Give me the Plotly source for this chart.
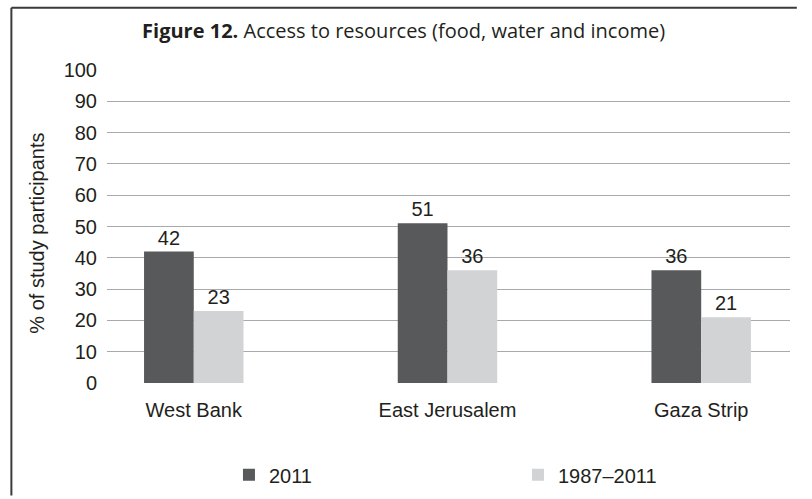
import plotly.graph_objects as go

# Data
regions = ["West Bank", "East Jerusalem", "Gaza Strip"]
series_names = ["2011", "1987\u20132011"]
values_2011 = [42, 51, 36]
values_1987_2011 = [23, 36, 21]
y_ticks = [0, 10, 20, 30, 40, 50, 60, 70, 80, 90, 100]

DARK = "#58595b"
LIGHT = "#d1d3d4"
TEXT = "#231f20"
GRID = "#a7a9ac"
BODY_FONT = "Liberation Sans, Arial, sans-serif"

W, H = 812, 499
L, R, T, B = 107, 5, 70, 112  # plot area margins in px
plot_w = W - L - R
plot_h = H - T - B


def px_to_paper_x(px):
    return (px - L) / plot_w


def px_to_paper_y(py):
    return (H - B - py) / plot_h


fig = go.Figure()
for name, vals, color in [(series_names[0], values_2011, DARK),
                          (series_names[1], values_1987_2011, LIGHT)]:
    fig.add_trace(go.Bar(
        name=name,
        x=regions,
        y=vals,
        marker=dict(color=color, line=dict(width=0)),
        text=[str(v) for v in vals],
        textposition="outside",
        textfont=dict(family=BODY_FONT, size=20, color=TEXT),
        cliponaxis=False,
    ))

fig.update_layout(
    width=W,
    height=H,
    margin=dict(l=L, r=R, t=T, b=B, pad=0),
    paper_bgcolor="white",
    plot_bgcolor="white",
    barmode="group",
    bargap=0.608,
    bargroupgap=0,
    font=dict(family=BODY_FONT, size=20, color=TEXT),
    xaxis=dict(
        type="category",
        range=[-0.342, 2.35],
        showgrid=False,
        showline=False,
        zeroline=False,
        ticks="",
        ticklabelstandoff=13,
        tickfont=dict(family=BODY_FONT, size=20, color=TEXT),
    ),
    yaxis=dict(
        range=[0, 100],
        tickvals=y_ticks,
        showgrid=True,
        gridcolor=GRID,
        gridwidth=1.3,
        showline=False,
        zeroline=False,
        ticks="",
        ticklabelstandoff=9,
        tickfont=dict(family=BODY_FONT, size=20, color=TEXT),
    ),
    showlegend=True,
    legend=dict(
        orientation="h",
        x=px_to_paper_x(232),
        xanchor="left",
        y=px_to_paper_y(480),
        yanchor="middle",
        entrywidth=244,
        entrywidthmode="pixels",
        font=dict(family=BODY_FONT, size=20, color=TEXT),
        bgcolor="rgba(0,0,0,0)",
        traceorder="normal",
    ),
    title=dict(
        text="<b>Figure 12.</b> Access to resources (food, water and income)",
        x=px_to_paper_x(411),
        xref="paper",
        xanchor="center",
        y=1 - 31 / H,
        yref="container",
        yanchor="middle",
        font=dict(family="Open Sans, sans-serif", size=20, color=TEXT),
    ),
)

# Y-axis title
fig.add_annotation(
    text="% of study participants",
    xref="paper", yref="paper",
    x=px_to_paper_x(35), y=px_to_paper_y(235),
    xanchor="center", yanchor="middle",
    textangle=-90,
    showarrow=False,
    font=dict(family=BODY_FONT, size=20, color=TEXT),
)

# Frame: top and left rules
fig.add_shape(type="line", xref="paper", yref="paper",
              x0=px_to_paper_x(9), x1=px_to_paper_x(W + 2),
              y0=px_to_paper_y(7), y1=px_to_paper_y(7),
              line=dict(color="#3a3a3a", width=2))
fig.add_shape(type="line", xref="paper", yref="paper",
              x0=px_to_paper_x(9), x1=px_to_paper_x(9),
              y0=px_to_paper_y(7), y1=px_to_paper_y(H + 2),
              line=dict(color="#3a3a3a", width=2))

fig.write_html("out.html")
